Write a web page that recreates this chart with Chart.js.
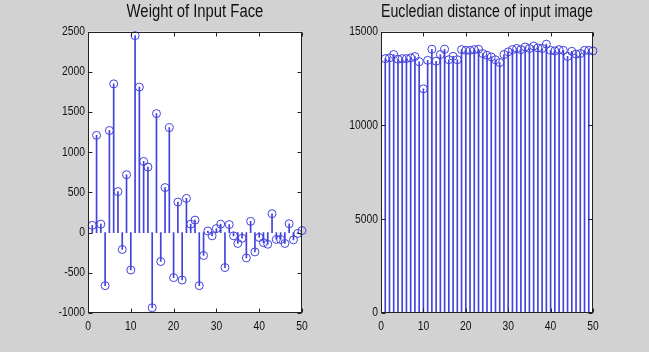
<!DOCTYPE html>
<html><head><meta charset="utf-8">
<script src="https://cdn.jsdelivr.net/npm/chart.js@4.4.0/dist/chart.umd.min.js"></script>
<style>
html,body{margin:0;padding:0;background:#d2d2d2;width:649px;height:352px;overflow:hidden}
#a{position:absolute;left:0;top:0}
#b{position:absolute;left:320px;top:0}
</style></head><body>
<canvas id="a" width="320" height="352"></canvas>
<canvas id="b" width="329" height="352"></canvas>
<script>
const indices = [1,2,3,4,5,6,7,8,9,10,11,12,13,14,15,16,17,18,19,20,21,22,23,24,25,26,27,28,29,30,31,32,33,34,35,36,37,38,39,40,41,42,43,44,45,46,47,48,49,50];
const faceWeights = [90,1210,105,-660,1270,1850,510,-210,720,-465,2450,1810,885,815,-935,1480,-360,560,1305,-560,380,-590,425,105,155,-660,-285,20,-40,50,105,-435,100,-40,-135,-70,-315,140,-240,-60,-125,-145,235,-85,-85,-135,110,-90,-10,25];
const distances = [13560,13600,13780,13530,13560,13560,13600,13670,13390,11950,13470,14060,13420,13780,14060,13500,13680,13500,14040,14000,14000,14040,14060,13830,13740,13650,13500,13350,13780,13920,14040,14100,14040,14180,14100,14230,14130,14100,14330,14000,13970,14040,14000,13680,13950,13800,13830,14000,14000,13970];
const weightTicks = [-1000,-500,0,500,1000,1500,2000,2500];
const distanceTicks = [0,5000,10000,15000];
const xTicks = [0,10,20,30,40,50];
const titles = ['Weight of Input Face','Eucledian distance of input image'];

const FONT = "'Liberation Sans',Arial,Helvetica,sans-serif";
Chart.defaults.font.family = FONT;
Chart.defaults.color = '#111';
const STEM = 'rgb(66,66,222)';
const SQUEEZE = 0.825; // MATLAB-like narrow glyphs

// condensed text: every label is drawn horizontally squeezed
const narrowText = {
  id: 'narrowText',
  beforeInit(chart) {
    const ctx = chart.ctx;
    const orig = ctx.fillText;
    ctx.fillText = function (t, x, y, mw) {
      const w = this.measureText(t).width * SQUEEZE;
      const m = (mw === undefined || mw === null) ? w : Math.min(mw, w);
      return orig.call(this, t, x, y, m);
    };
  }
};

const boxPlugin = {
  id: 'box',
  beforeDraw(chart) {
    const {ctx, chartArea: a} = chart;
    ctx.save();
    ctx.fillStyle = '#ffffff';
    ctx.fillRect(a.left, a.top, a.right - a.left, a.bottom - a.top);
    ctx.restore();
  },
  afterDraw(chart) {
    const {ctx, chartArea: a, scales} = chart;
    const L = Math.round(a.left) + 0.5, R = Math.round(a.right) - 0.5;
    const T = Math.round(a.top) + 0.5, B = Math.round(a.bottom) - 0.5;
    ctx.save();
    ctx.strokeStyle = '#222';
    ctx.lineWidth = 1;
    ctx.strokeRect(L, T, R - L, B - T);
    ctx.beginPath();
    scales.y.ticks.forEach(t => {
      const py = Math.round(scales.y.getPixelForValue(t.value)) + 0.5;
      ctx.moveTo(L, py); ctx.lineTo(L + 4, py);
      ctx.moveTo(R, py); ctx.lineTo(R - 4, py);
    });
    scales.x.ticks.forEach(t => {
      const px = Math.round(scales.x.getPixelForValue(t.value)) + 0.5;
      ctx.moveTo(px, B); ctx.lineTo(px, B - 4);
      ctx.moveTo(px, T); ctx.lineTo(px, T + 4);
    });
    ctx.stroke();
    ctx.restore();
  }
};

function makeChart(id, title, values, yMin, yMax, yTicks, yWidth, padRight) {
  const pts = indices.map((x, i) => ({x: x, y: values[i]}));
  return new Chart(document.getElementById(id), {
    type: 'scatter',
    data: {
      datasets: [
        {
          type: 'scatter', data: pts, order: 0, clip: false,
          pointRadius: 4, pointBorderWidth: 1,
          pointBorderColor: STEM, pointBackgroundColor: 'rgba(0,0,0,0)'
        },
        {
          type: 'bar', data: pts, order: 1,
          backgroundColor: STEM, borderWidth: 0, barThickness: 1
        }
      ]
    },
    options: {
      responsive: false, animation: false, events: [],
      layout: {padding: {left: 0, right: padRight, top: 0, bottom: 0}},
      plugins: {
        legend: {display: false}, tooltip: {enabled: false},
        title: {
          display: true, text: title, fullSize: false, color: '#111',
          font: {size: 18, weight: 'normal', family: FONT, lineHeight: 1.2},
          padding: {top: 1.5, bottom: 8.5}
        }
      },
      scales: {
        x: {
          type: 'linear', min: 0, max: 50, offset: false,
          grid: {display: false, offset: false, drawTicks: false},
          border: {display: false},
          afterBuildTicks: s => { s.ticks = xTicks.map(v => ({value: v})); },
          afterFit: s => { s.height = 39; },
          ticks: {padding: 6, font: {size: 12.5}, maxRotation: 0, autoSkip: false}
        },
        y: {
          type: 'linear', min: yMin, max: yMax,
          grid: {display: false, drawTicks: false},
          border: {display: false},
          afterBuildTicks: s => { s.ticks = yTicks.map(v => ({value: v})); },
          afterFit: s => { s.width = yWidth; },
          ticks: {padding: 3, font: {size: 12.5}, autoSkip: false, callback: v => String(v)}
        }
      }
    },
    plugins: [narrowText, boxPlugin]
  });
}

const chartA = makeChart('a', titles[0], faceWeights, -1000, 2500, weightTicks, 88, 18);
const chartB = makeChart('b', titles[1], distances, 0, 15000, distanceTicks, 61, 56);
</script>
</body></html>
